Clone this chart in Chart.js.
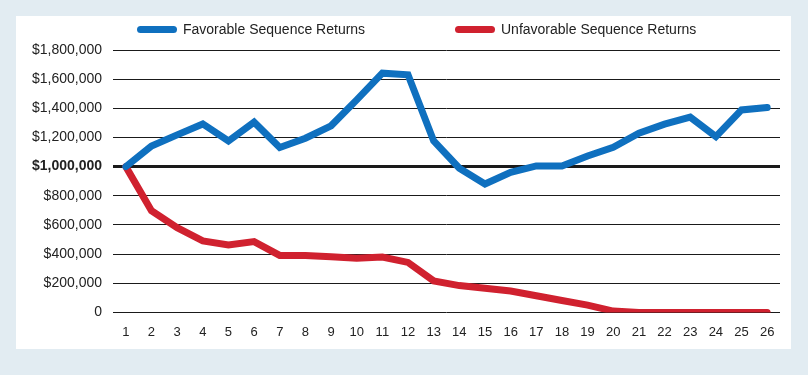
<!DOCTYPE html>
<html>
<head>
<meta charset="utf-8">
<script src="https://cdn.jsdelivr.net/npm/chart.js@4.4.0/dist/chart.umd.min.js"></script>
<style>
  body { margin: 0; background: #e2ecf2; font-family: "Liberation Sans", Arial, sans-serif; }
  #panel { position: absolute; left: 16px; top: 16px; width: 775px; height: 333px; background: #fff; }
  #chartBox { position: absolute; left: 16px; top: 16px; }
  #legend { position: absolute; left: 137px; top: 21px; display: flex; align-items: center; font-size: 14px; color: #222; }
  .item { display: flex; align-items: center; }
  .item:first-child { width: 318px; }
  .swatch { width: 40px; height: 7px; border-radius: 4px; margin-right: 6px; }
</style>
</head>
<body>
<div id="panel"></div>
<div id="chartBox"><canvas id="lineChart" width="775" height="336"></canvas></div>
<div id="legend"></div>

<script>
// ==========================
// DATA
// ==========================
const years = ["1","2","3","4","5","6","7","8","9","10","11","12","13",
               "14","15","16","17","18","19","20","21","22","23","24","25","26"];

const favorable = [1000000, 1142000, 1218000, 1293000, 1176000, 1305000, 1131000, 1195000,
                   1280000, 1458000, 1641000, 1630000, 1176000, 989000, 881000, 961000,
                   1005000, 1005000, 1073000, 1133000, 1229000, 1291000, 1339000, 1206000,
                   1389000, 1405000];

const unfavorable = [1000000, 697000, 581000, 490000, 463000, 486000, 391000, 391000,
                     382000, 371000, 380000, 343000, 216000, 184000, 166000, 147000,
                     114000, 82000, 50000, 9000, 0, 0, 0, 0, 0, 0];

const yTicks = [0, 200000, 400000, 600000, 800000, 1000000, 1200000, 1400000, 1600000, 1800000];

const seriesNames = ["Favorable Sequence Returns", "Unfavorable Sequence Returns"];
const seriesColors = ["#0f70bf", "#d0212f"];

// ==========================
// CHART
// ==========================
function fmtMoney(v) {
  if (v === 0) return "0";
  return "$" + v.toLocaleString("en-US");
}

const ctx = document.getElementById("lineChart").getContext("2d");
const chart = new Chart(ctx, {
  type: "line",
  data: {
    labels: years,
    datasets: [
      { label: seriesNames[0], data: favorable, borderColor: seriesColors[0], backgroundColor: seriesColors[0] },
      { label: seriesNames[1], data: unfavorable, borderColor: seriesColors[1], backgroundColor: seriesColors[1] }
    ]
  },
  options: {
    responsive: false,
    devicePixelRatio: 1,
    animation: false,
    layout: { padding: { top: 34, right: 11, bottom: 0, left: 0 } },
    elements: {
      line: { borderWidth: 7, tension: 0, borderCapStyle: "round", borderJoinStyle: "miter" },
      point: { radius: 0, hoverRadius: 0 }
    },
    plugins: {
      legend: { display: false },
      tooltip: { enabled: false }
    },
    scales: {
      x: {
        offset: true,
        grid: { display: false, drawTicks: false },
        border: { display: false },
        ticks: {
          color: "#222",
          padding: 12,
          maxRotation: 0,
          autoSkip: false,
          font: { family: "Liberation Sans", size: 13 }
        }
      },
      y: {
        min: yTicks[0],
        max: yTicks[yTicks.length - 1],
        afterFit: (scale) => { scale.width = 97; },
        afterBuildTicks: (scale) => { scale.ticks = yTicks.map(v => ({ value: v })); },
        border: { display: false },
        grid: {
          drawTicks: false,
          color: "#1a1a1a",
          lineWidth: (c) => (c.tick && c.tick.value === 1000000 ? 3 : 1)
        },
        ticks: {
          color: "#222",
          padding: 11,
          callback: (v) => fmtMoney(v),
          font: (c) => ({
            family: "Liberation Sans",
            size: 14,
            weight: c.tick && c.tick.value === 1000000 ? "bold" : "normal"
          })
        }
      }
    }
  }
});

// ==========================
// LEGEND (HTML, từ datasets)
// ==========================
const legendEl = document.getElementById("legend");
chart.data.datasets.forEach(ds => {
  const item = document.createElement("div");
  item.className = "item";
  item.innerHTML = `<span class="swatch" style="background:${ds.borderColor}"></span><span>${ds.label}</span>`;
  legendEl.appendChild(item);
});
</script>
</body>
</html>
